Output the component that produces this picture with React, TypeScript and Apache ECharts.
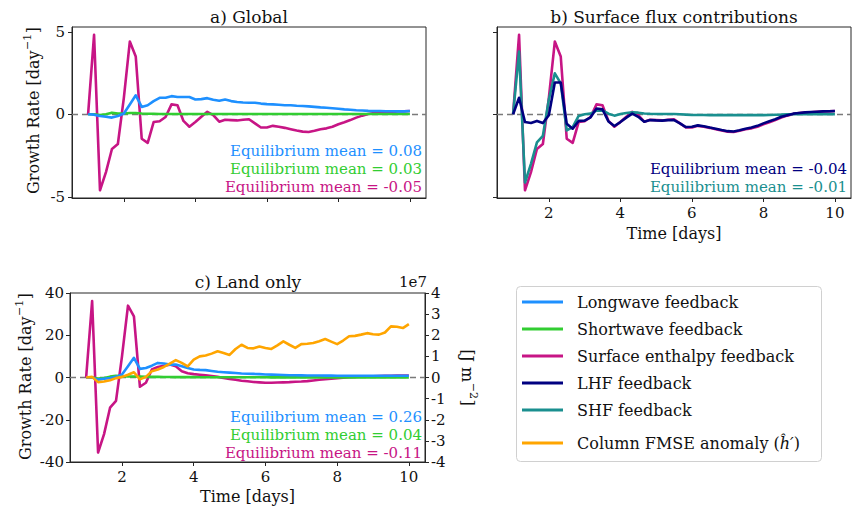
import { useEffect, useRef } from 'react';
import * as echarts from 'echarts';

const FONT = 'DejaVu Serif';

// time in days (4-hourly output)
const TIME = [1, 1.167, 1.333, 1.5, 1.667, 1.833, 2, 2.167, 2.333, 2.5, 2.667, 2.833, 3, 3.167, 3.333, 3.5, 3.667, 3.833, 4,
  4.167, 4.333, 4.5, 4.667, 4.833, 5, 5.167, 5.333, 5.5, 5.667, 5.833, 6, 6.167, 6.333, 6.5, 6.667, 6.833, 7,
  7.167, 7.333, 7.5, 7.667, 7.833, 8, 8.167, 8.333, 8.5, 8.667, 8.833, 9, 9.167, 9.333, 9.5, 9.667, 9.833, 10];

const X_TICKS = [2, 4, 6, 8, 10];
const Y_TICKS_AB = [-5, 0, 5];

// a) Global
const LW_GLOBAL = [0, -0.02, -0.1, -0.15, -0.2, -0.1, 0.05, 0.6, 1.15, 0.45, 0.55, 0.8, 1.0, 1.0, 1.1, 1.05, 1.05, 1.05, 0.9,
  0.92, 0.98, 0.88, 0.82, 0.9, 0.8, 0.75, 0.72, 0.7, 0.7, 0.65, 0.62, 0.6, 0.58, 0.55, 0.55, 0.52, 0.5,
  0.48, 0.45, 0.42, 0.4, 0.37, 0.34, 0.3, 0.28, 0.25, 0.23, 0.21, 0.2, 0.2, 0.19, 0.19, 0.18, 0.18, 0.2];
const SW_GLOBAL = [0, 0, -0.05, 0, 0.1, 0.05, 0.05, 0.08, 0.08, 0.05, 0.03, 0.03, 0.02, 0.02, 0.02, 0.02, 0.02, 0.02, 0.02,
  0.02, 0.02, 0.02, 0.02, 0.02, 0.02, 0.02, 0.02, 0.02, 0.02, 0.02, 0.02, 0.02, 0.02, 0.02, 0.02, 0.02, 0.02,
  0.02, 0.02, 0.02, 0.02, 0.02, 0.02, 0.02, 0.02, 0.02, 0.02, 0.02, 0.02, 0.02, 0.02, 0.02, 0.02, 0.02, 0.02];
const SE_GLOBAL = [0, 4.82, -4.6, -3.5, -2.1, -1.8, 1.0, 4.41, 3.5, -1.48, -1.73, -0.47, -0.42, -0.16, 0.6, 0.55, -0.4, -0.75, -0.47,
  -0.15, 0.15, -0.05, -0.45, -0.33, -0.35, -0.37, -0.33, -0.3, -0.55, -0.8, -0.8, -0.7, -0.75, -0.82, -0.9, -0.98, -1.05,
  -1.07, -1.0, -0.9, -0.85, -0.75, -0.6, -0.48, -0.35, -0.2, -0.08, 0.02, 0.07, 0.1, 0.12, 0.15, 0.17, 0.18, 0.2];

// b) Surface flux contributions
const LHF_GLOBAL = [0, 1.0, -0.47, -0.53, -0.4, -0.53, -0.06, 1.93, 1.93, -0.57, -0.87, -0.4, -0.38, -0.18, 0.35, 0.3, -0.43, -0.71, -0.47,
  -0.2, 0.04, -0.15, -0.45, -0.35, -0.37, -0.38, -0.35, -0.35, -0.55, -0.77, -0.75, -0.67, -0.72, -0.8, -0.87, -0.95, -1.02,
  -1.04, -0.97, -0.87, -0.8, -0.7, -0.55, -0.42, -0.3, -0.15, -0.05, 0.04, 0.08, 0.12, 0.14, 0.16, 0.18, 0.19, 0.2];
const SHF_GLOBAL = [0, 3.8, -4.13, -3.0, -1.7, -1.3, 0.9, 2.48, 1.87, -0.98, -0.77, -0.1, 0.0, 0.04, 0.22, 0.24, 0.04, -0.08, 0.02,
  0.08, 0.12, 0.1, 0.05, 0.03, 0.02, 0.02, 0.02, 0.02, 0.0, -0.02, -0.04, -0.04, -0.04, -0.05, -0.05, -0.05, -0.05,
  -0.05, -0.05, -0.05, -0.05, -0.05, -0.05, -0.04, -0.03, -0.02, 0.0, 0.0, 0.01, 0.01, 0.01, 0.01, 0.01, 0.01, 0.01];

// c) Land only
const LW_LAND = [0, 0, -1.0, -0.6, -0.3, 0.3, 1.4, 5.3, 9.3, 4.1, 4.5, 5.6, 6.9, 6.6, 6.1, 6.1, 5.3, 4.5, 3.8,
  3.6, 3.5, 3.1, 2.7, 2.5, 2.3, 2.1, 1.9, 1.8, 1.7, 1.6, 1.45, 1.35, 1.3, 1.2, 1.1, 1.05, 1.0,
  0.98, 0.95, 0.92, 0.9, 0.88, 0.85, 0.83, 0.8, 0.8, 0.8, 0.8, 0.8, 0.8, 0.8, 0.8, 0.8, 0.8, 0.8];
const SW_LAND = [0, 0, -0.5, -0.2, 0.4, 0.8, 0.6, 0.5, 0.5, 0.4, 0.3, 0.3, 0.3, 0.25, 0.25, 0.2, 0.2, 0.2, 0.2,
  0.15, 0.15, 0.15, 0.15, 0.12, 0.12, 0.12, 0.1, 0.1, 0.1, 0.1, 0.1, 0.08, 0.08, 0.08, 0.08, 0.08, 0.06,
  0.06, 0.06, 0.06, 0.05, 0.05, 0.05, 0.05, 0.05, 0.05, 0.05, 0.05, 0.05, 0.05, 0.05, 0.05, 0.05, 0.05, 0.05];
const SE_LAND = [0, 36.2, -35.5, -26.8, -14.3, -11.1, 10, 34, 28.9, -4.4, -2.5, 3.8, 5, 5.6, 6.1, 5.3, 3, 2.0, 1.6,
  1.3, 1.0, 0.7, 0.3, -0.2, -0.7, -1.1, -1.5, -1.8, -2.1, -2.3, -2.5, -2.5, -2.4, -2.3, -2.2, -2.0, -1.9,
  -1.7, -1.4, -1.1, -0.8, -0.6, -0.3, -0.1, 0.1, 0.3, 0.4, 0.5, 0.6, 0.7, 0.8, 0.85, 0.9, 0.9, 0.9];
// column FMSE anomaly, units of 1e7 J m^-2
const FMSE_LAND = [0, 0.03, -0.22, -0.19, -0.13, -0.03, 0.03, 0.13, 0.25, -0.09, 0.03, 0.3, 0.38, 0.5, 0.66, 0.82, 0.69, 0.53, 0.85,
  1.0, 1.04, 1.13, 1.24, 1.16, 1.07, 1.35, 1.55, 1.4, 1.38, 1.47, 1.4, 1.35, 1.52, 1.71, 1.55, 1.4, 1.58,
  1.6, 1.63, 1.72, 1.82, 1.7, 1.58, 1.75, 1.95, 1.97, 2.03, 2.1, 2.05, 2.03, 2.13, 2.42, 2.4, 2.34, 2.53];

const C_LW = '#1e90ff';
const C_SW = '#32cd32';
const C_SE = '#c71585';
const C_LHF = '#000080';
const C_SHF = '#1a8f8f';
const C_FMSE = '#ffa500';

const LEGEND_NAMES = ['Longwave feedback', 'Shortwave feedback', 'Surface enthalpy feedback', 'LHF feedback', 'SHF feedback', 'Column FMSE anomaly'];

const EQ_A = [['Equilibrium mean = 0.08', C_LW], ['Equilibrium mean = 0.03', C_SW], ['Equilibrium mean = -0.05', C_SE]];
const EQ_B = [['Equilibrium mean = -0.04', C_LHF], ['Equilibrium mean = -0.01', C_SHF]];
const EQ_C = [['Equilibrium mean = 0.26', C_LW], ['Equilibrium mean = 0.04', C_SW], ['Equilibrium mean = -0.11', C_SE]];

const AX = '#262626';

function measure(text: string, size: number) {
  const c = document.createElement('canvas').getContext('2d');
  if (!c) return text.length * size * 0.6;
  c.font = `${size}px "${FONT}"`;
  return c.measureText(text).width;
}

function pairs(vals: number[]) {
  return TIME.map((t, i) => [t, vals[i]]);
}

function line(name: string, vals: number[], color: string, xi: number, yi: number, z: number, zero = false) {
  const s: any = {
    type: 'line', name, data: pairs(vals), xAxisIndex: xi, yAxisIndex: yi,
    symbol: 'none', showSymbol: false, z,
    lineStyle: { color, width: 2.6, join: 'round' }, itemStyle: { color }, color,
  };
  if (zero) {
    s.markLine = {
      silent: true, symbol: ['none', 'none'], label: { show: false }, z: 1,
      lineStyle: { color: '#7a7a7a', type: [6, 4], width: 1.3 },
      data: [{ yAxis: 0 }],
    };
  }
  return s;
}

function xAxis(grid: number, showLabels: boolean, name?: string, nameGap = 28) {
  return {
    type: 'value', gridIndex: grid, min: 0.55, max: 10.45,
    axisLine: { show: true, onZero: false, lineStyle: { color: AX, width: 1 } },
    axisTick: { show: true, length: 4, customValues: X_TICKS, lineStyle: { color: AX } },
    axisLabel: { show: showLabels, customValues: X_TICKS, fontFamily: FONT, fontSize: 15, color: '#111', margin: 7 },
    splitLine: { show: false },
    name: name, nameLocation: 'middle', nameGap,
    nameTextStyle: { fontFamily: FONT, fontSize: 16, color: '#111' },
  };
}

function eqTexts(list: string[][], x: number, y0: number, dy: number) {
  return list.map((e, i) => ({
    type: 'text', x, y: y0 + i * dy, z: 50,
    style: { text: e[0], fill: e[1], font: `15px "${FONT}"`, align: 'right', verticalAlign: 'middle' },
  }));
}

function supLabel(main: string, sup: string, tail: string, x: number, y: number, rot: number) {
  const big = 16;
  const small = 11;
  const w1 = measure(main, big);
  const w2 = measure(sup, small);
  const w3 = measure(tail, big);
  const x0 = -(w1 + w2 + w3) / 2;
  return {
    type: 'group', x, y, rotation: rot,
    children: [
      { type: 'text', x: x0, y: 0, z: 50, style: { text: main, fill: '#111', font: `${big}px "${FONT}"`, align: 'left', verticalAlign: 'middle' } },
      { type: 'text', x: x0 + w1 + 0.5, y: -6, z: 50, style: { text: sup, fill: '#111', font: `${small}px "${FONT}"`, align: 'left', verticalAlign: 'middle' } },
      { type: 'text', x: x0 + w1 + w2 + 1, y: 0, z: 50, style: { text: tail, fill: '#111', font: `${big}px "${FONT}"`, align: 'left', verticalAlign: 'middle' } },
    ],
  };
}

function title(text: string, x: number, y: number) {
  return {
    type: 'text', x, y, z: 50,
    style: { text, fill: '#111', font: `17px "${FONT}"`, align: 'center', verticalAlign: 'middle' },
  };
}

function buildOption(): any {
  return {
    animation: false,
    backgroundColor: '#ffffff',
    grid: [
      { left: 72, top: 27, width: 354, height: 171, show: true, borderColor: AX, borderWidth: 1, backgroundColor: 'transparent' },
      { left: 497, top: 27, width: 354, height: 171, show: true, borderColor: AX, borderWidth: 1, backgroundColor: 'transparent' },
      { left: 70, top: 293, width: 355, height: 169, show: true, borderColor: AX, borderWidth: 1, backgroundColor: 'transparent' },
    ],
    xAxis: [
      xAxis(0, false),
      xAxis(1, true, 'Time [days]', 27),
      xAxis(2, true, 'Time [days]', 26),
    ],
    yAxis: [
      {
        type: 'value', gridIndex: 0, min: -5.07, max: 5.29,
        axisLine: { show: true, lineStyle: { color: AX } },
        axisTick: { show: true, length: 4, customValues: Y_TICKS_AB, lineStyle: { color: AX } },
        axisLabel: { customValues: Y_TICKS_AB, fontFamily: FONT, fontSize: 15, color: '#111', margin: 7 },
        splitLine: { show: false },
      },
      {
        type: 'value', gridIndex: 1, min: -5.07, max: 5.29,
        axisLine: { show: true, lineStyle: { color: AX } },
        axisTick: { show: true, length: 4, customValues: Y_TICKS_AB, lineStyle: { color: AX } },
        axisLabel: { show: false, customValues: Y_TICKS_AB },
        splitLine: { show: false },
      },
      {
        type: 'value', gridIndex: 2, min: -40, max: 40, interval: 20,
        axisLine: { show: true, lineStyle: { color: AX } },
        axisTick: { show: true, length: 4, lineStyle: { color: AX } },
        axisLabel: { fontFamily: FONT, fontSize: 15, color: '#111', margin: 6 },
        splitLine: { show: false },
      },
      {
        type: 'value', gridIndex: 2, position: 'right', min: -4, max: 4, interval: 1,
        axisLine: { show: true, lineStyle: { color: AX } },
        axisTick: { show: true, length: 4, lineStyle: { color: AX } },
        axisLabel: { fontFamily: FONT, fontSize: 15, color: '#111', margin: 6 },
        splitLine: { show: false },
      },
    ],
    legend: {
      orient: 'vertical', left: 516, top: 286, padding: [7, 6, 6, 6],
      itemWidth: 41, itemHeight: 3, itemGap: 9, icon: 'rect', selectedMode: false,
      data: LEGEND_NAMES,
      formatter: (name: string) => name === 'Column FMSE anomaly' ? '{n|Column FMSE anomaly (}{i|ĥ′}{n|)}' : name,
      textStyle: {
        fontFamily: FONT, fontSize: 16, color: '#111', lineHeight: 18, padding: [0, 0, 0, 9],
        rich: {
          n: { fontFamily: FONT, fontSize: 16, color: '#111', lineHeight: 30 },
          i: { fontFamily: FONT, fontSize: 16, color: '#111', lineHeight: 30, fontStyle: 'italic' },
        },
      },
    },
    series: [
      line('Surface enthalpy feedback', SE_GLOBAL, C_SE, 0, 0, 2, true),
      line('Shortwave feedback', SW_GLOBAL, C_SW, 0, 0, 3),
      line('Longwave feedback', LW_GLOBAL, C_LW, 0, 0, 4),

      line('Surface enthalpy feedback', SE_GLOBAL, C_SE, 1, 1, 2, true),
      line('SHF feedback', SHF_GLOBAL, C_SHF, 1, 1, 3),
      line('LHF feedback', LHF_GLOBAL, C_LHF, 1, 1, 4),

      line('Surface enthalpy feedback', SE_LAND, C_SE, 2, 2, 2, true),
      line('Shortwave feedback', SW_LAND, C_SW, 2, 2, 3),
      line('Longwave feedback', LW_LAND, C_LW, 2, 2, 4),
      line('Column FMSE anomaly', FMSE_LAND, C_FMSE, 2, 3, 5),
    ],
    graphic: [
      { type: 'rect', z: 0, shape: { x: 516.5, y: 286.5, width: 305, height: 175, r: 4 }, style: { fill: 'none', stroke: '#d0d0d0', lineWidth: 1 } },
      title('a) Global', 249, 17),
      title('b) Surface flux contributions', 674, 17),
      title('c) Land only', 248, 282),
      ...eqTexts(EQ_A, 422, 151, 17.8),
      ...eqTexts(EQ_B, 847, 169, 17.8),
      ...eqTexts(EQ_C, 422, 417, 17.8),
      supLabel('Growth Rate [day', '−1', ']', 33, 111, Math.PI / 2),
      supLabel('Growth Rate [day', '−1', ']', 25, 377, Math.PI / 2),
      supLabel('[J m', '−2', ']', 467, 377, -Math.PI / 2),
      { type: 'text', x: 427, y: 282, z: 50, style: { text: '1e7', fill: '#111', font: `15px "${FONT}"`, align: 'right', verticalAlign: 'middle' } },
    ],
  };
}

export default function App() {
  const ref = useRef<HTMLDivElement>(null);
  useEffect(() => {
    const chart = echarts.init(ref.current!, null, { renderer: 'svg' });
    chart.setOption(buildOption());
    return () => chart.dispose();
  }, []);
  return (
    <div
      ref={ref}
      style={{ position: 'fixed', left: 0, top: 0, width: 852, height: 513, background: '#ffffff' }}
    />
  );
}
